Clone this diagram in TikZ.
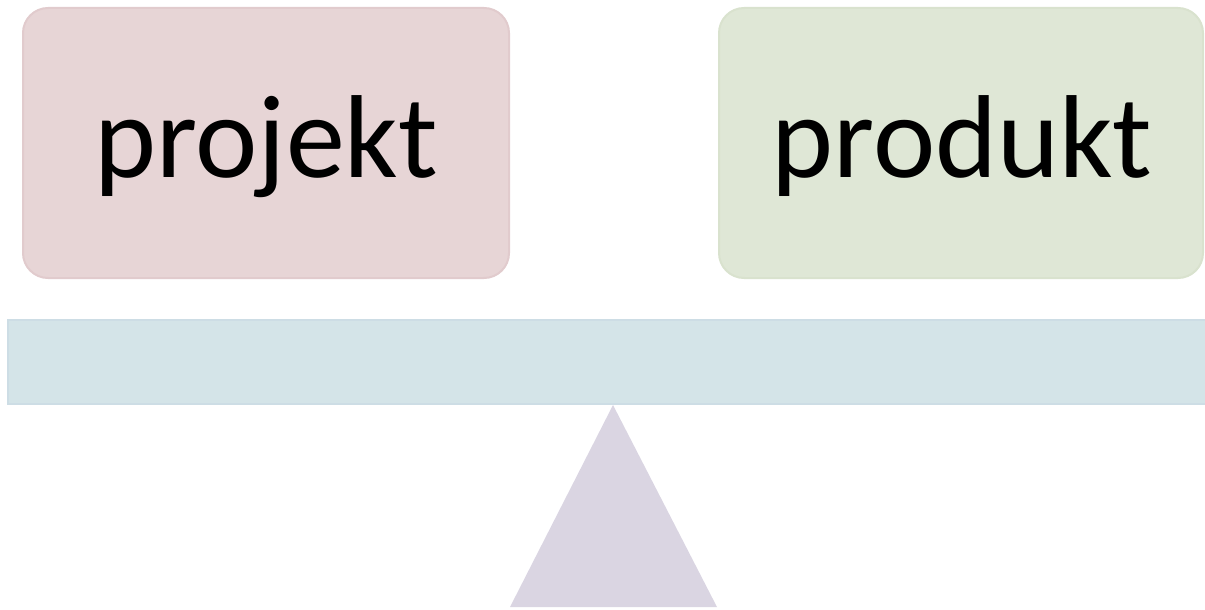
\documentclass[tikz,border=0pt]{standalone}
\usepackage{fontspec}
\setmainfont{Carlito}
\definecolor{redfill}{HTML}{E7D5D6}
\definecolor{redline}{HTML}{E1CBCD}
\definecolor{greenfill}{HTML}{DFE7D6}
\definecolor{greenline}{HTML}{D9E2CE}
\definecolor{barfill}{HTML}{D4E4E8}
\definecolor{barline}{HTML}{CDDDE5}
\definecolor{trifill}{HTML}{DAD5E2}
\tikzset{
  labelbox/.style={rounded corners=25pt, line width=2pt},
  bigtext/.style={font=\fontsize{118}{130}\selectfont, text=black, inner sep=0pt, anchor=base},
}
\begin{document}
\begin{tikzpicture}[x=1pt,y=-1pt]
\useasboundingbox (0,0) rectangle (1205,610);
\draw[labelbox, fill=redfill, draw=redline] (23,8) rectangle (509,278);
\draw[labelbox, fill=greenfill, draw=greenline] (719,8) rectangle (1203,278);
\node[bigtext] (projekt) at (266,177) {projekt};
\node[bigtext] (produkt) at (962,177) {produkt};
\draw[fill=barfill, draw=barline, line width=1.5pt] (8,320) rectangle (1210,404);
\fill[trifill] (613,405) -- (717,607) -- (510,607) -- cycle;
\end{tikzpicture}
\end{document}
